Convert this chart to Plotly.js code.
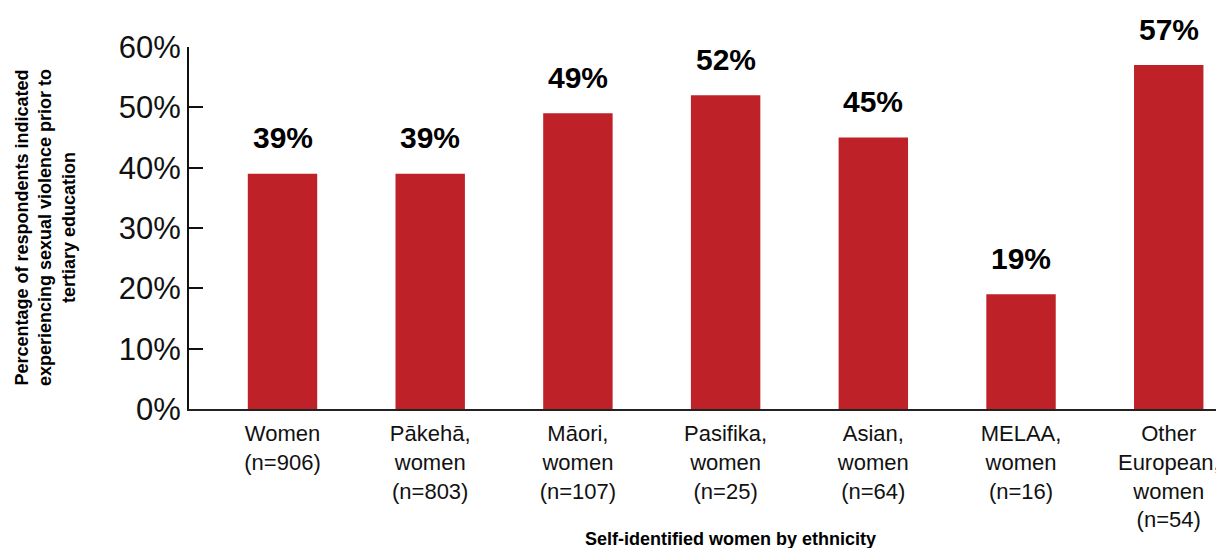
<!DOCTYPE html>
<html>
<head>
<meta charset="utf-8">
<script src="https://cdn.plot.ly/plotly-3.0.1.min.js"></script>
<style>html,body{margin:0;padding:0;background:#fff;}#chart{width:1216px;height:548px;}</style>
</head>
<body>
<div id="chart"></div>
<script>
const categories = [
  "Women<br>(n=906)",
  "Pākehā,<br>women<br>(n=803)",
  "Māori,<br>women<br>(n=107)",
  "Pasifika,<br>women<br>(n=25)",
  "Asian,<br>women<br>(n=64)",
  "MELAA,<br>women<br>(n=16)",
  "Other<br>European,<br>women<br>(n=54)"
];
const values = [39, 39, 49, 52, 45, 19, 57];
const valueLabels = ["39%", "39%", "49%", "52%", "45%", "19%", "57%"];
const yTickVals = [0, 10, 20, 30, 40, 50, 60];
const yTickText = ["0%", "10%", "20%", "30%", "40%", "50%", "60%"];
const xTitle = "Self-identified women by ethnicity";
const yTitle = "Percentage of respondents indicated<br>experiencing sexual violence prior to<br>tertiary education";

const FONT = "Liberation Sans, Arial, sans-serif";

const trace = {
  type: "bar",
  x: categories,
  y: values,
  marker: {color: "#BE2128"},
  hoverinfo: "skip"
};

const annotations = categories.map((c, i) => ({
  x: c, y: values[i], xref: "x", yref: "y",
  text: "<b>" + valueLabels[i] + "</b>",
  showarrow: false, yanchor: "middle", yshift: 36,
  font: {family: FONT, size: 30, color: "#000"}
}));
annotations.push({
  xref: "paper", yref: "paper", x: 0.527, y: 0, yanchor: "middle",
  yshift: -130, text: "<b>" + xTitle + "</b>", showarrow: false,
  font: {family: FONT, size: 18, color: "#000"}
});
annotations.push({
  xref: "paper", yref: "paper", x: 0, xanchor: "center", xshift: -144, y: 0.5,
  textangle: -90, text: "<b>" + yTitle + "</b>", showarrow: false,
  font: {family: FONT, size: 18, color: "#000"}
});

const layout = {
  width: 1216, height: 548,
  margin: {l: 189, r: 0, t: 47, b: 139},
  paper_bgcolor: "#fff", plot_bgcolor: "#fff",
  showlegend: false,
  bargap: 0.53,
  font: {family: FONT, color: "#000"},
  xaxis: {
    type: "category",
    range: [-0.633, 6.32],
    showline: true, linecolor: "#222", linewidth: 2,
    ticks: "", showgrid: false, zeroline: false,
    tickangle: 0,
    tickfont: {family: FONT, size: 22, color: "#111"},
    ticklabelstandoff: 4,
    automargin: false
  },
  yaxis: {
    range: [0, 60],
    tickvals: yTickVals, ticktext: yTickText,
    ticks: "inside", ticklen: 14, tickwidth: 2, tickcolor: "#111",
    showline: true, linecolor: "#111", linewidth: 2,
    showgrid: false, zeroline: false,
    tickfont: {family: FONT, size: 31, color: "#111"},
    automargin: false
  },
  annotations: annotations
};

Plotly.newPlot("chart", [trace], layout, {displayModeBar: false, staticPlot: true});
</script>
</body>
</html>
